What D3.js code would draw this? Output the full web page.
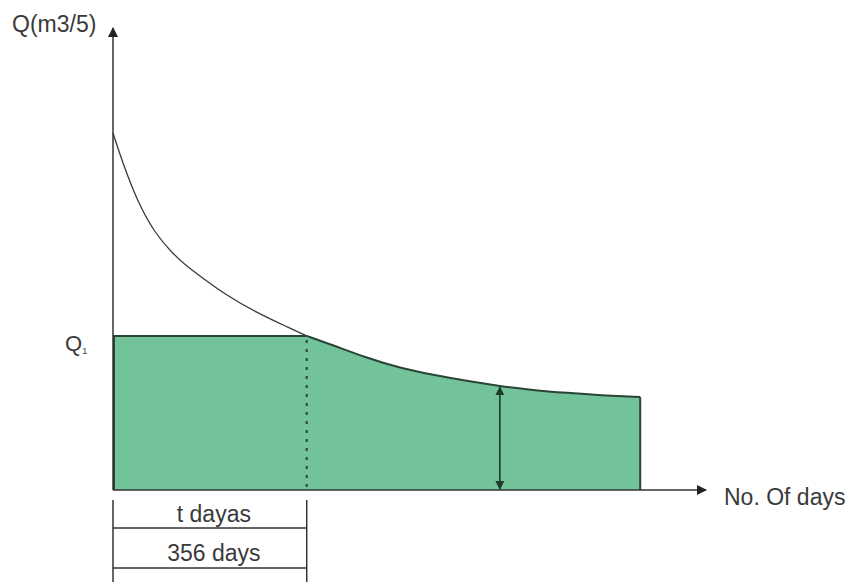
<!DOCTYPE html>
<html>
<head>
<meta charset="utf-8">
<script src="https://cdn.jsdelivr.net/npm/d3@7"></script>
<style>
  body { margin: 0; background: #fff; }
  text { font-family: "Liberation Sans", Arial, sans-serif; fill: #3a3a3a; }
</style>
</head>
<body>
<div id="chart"></div>
<script>
var dim = { 'width': 858, 'height': 582 };

// flow duration curve (x: arbitrary day units 0-100, y: discharge 0-100)
var curveDays = [0, 1.5, 4.3, 7.2, 10.2, 13.0, 15.9, 19.0, 24.8, 30.5, 33.4, 37.9, 43.8, 49.5, 55.2, 61, 66.7, 72.4, 78.3, 84, 90.9];
var curveQ    = [77.6, 71.7, 62.4, 55.9, 51.5, 48.3, 45.7, 42.8, 38.5, 35.2, 33.5, 31.5, 28.7, 26.5, 25, 23.7, 22.6, 21.7, 21.1, 20.6, 20.2];
var q1 = 33.5;          // Q1 level
var tDays = 33.4;       // where Q1 meets the curve
var arrowDay = 66.7;    // double arrow position
var yLabel = "Q(m3/5)";
var xLabel = "No. Of days";
var bracketLabels = ["t dayas", "356 days"];

var x = d3.scaleLinear().domain([0, 100]).range([113, 693]);
var y = d3.scaleLinear().domain([0, 100]).range([490, 30]);

var svg = d3.select("#chart").append("svg")
    .attr("width", dim.width).attr("height", dim.height);

var defs = svg.append("defs");
defs.append("marker").attr("id", "axisArrow")
    .attr("viewBox", "0 0 10 10").attr("refX", 9).attr("refY", 5)
    .attr("markerWidth", 10).attr("markerHeight", 10)
    .attr("markerUnits", "userSpaceOnUse").attr("orient", "auto")
    .append("path").attr("d", "M0,0 L10,5 L0,10 Z").attr("fill", "#222");
defs.append("marker").attr("id", "dimArrow")
    .attr("viewBox", "0 0 10 10").attr("refX", 9).attr("refY", 5)
    .attr("markerWidth", 9).attr("markerHeight", 9)
    .attr("markerUnits", "userSpaceOnUse").attr("orient", "auto-start-reverse")
    .append("path").attr("d", "M0,0 L10,5 L0,10 Z").attr("fill", "#1f3a2c");

var pts = curveDays.map((d, i) => ({ x: d, y: curveQ[i] }));
var upper = pts.filter(p => p.x <= tDays);
var lower = pts.filter(p => p.x >= tDays);
var last = lower[lower.length - 1];

// green area: flat block at Q1 until tDays, then under the curve
var flatArea = d3.area().x(d => x(d.x)).y0(y(0)).y1(d => y(d.y));
svg.append("path").datum([{ x: 0, y: q1 }, { x: tDays + 0.2, y: q1 }])
    .attr("d", flatArea).attr("fill", "#72c29a");
var curveArea = d3.area().x(d => x(d.x)).y0(y(0)).y1(d => y(d.y))
    .curve(d3.curveBasis);
svg.append("path").datum(lower)
    .attr("d", curveArea).attr("fill", "#72c29a");

// outline of the area
var outline = d3.line().x(d => x(d.x)).y(d => y(d.y)).curve(d3.curveBasis);
svg.append("path").datum(lower)
    .attr("d", outline).attr("fill", "none")
    .attr("stroke", "#2a4436").attr("stroke-width", 2);
svg.append("line")
    .attr("x1", x(0)).attr("x2", x(tDays)).attr("y1", y(q1)).attr("y2", y(q1))
    .attr("stroke", "#2a4436").attr("stroke-width", 2);
svg.append("line")
    .attr("x1", x(last.x)).attr("x2", x(last.x)).attr("y1", y(last.y)).attr("y2", y(0))
    .attr("stroke", "#2a4436").attr("stroke-width", 2);
svg.append("line")
    .attr("x1", x(0) + 1).attr("x2", x(0) + 1).attr("y1", y(q1)).attr("y2", y(0))
    .attr("stroke", "#2a4436").attr("stroke-width", 2);

// upper part of the duration curve
svg.append("path").datum(upper)
    .attr("d", outline).attr("fill", "none")
    .attr("stroke", "#3a3a3a").attr("stroke-width", 1.3);

// dotted line at tDays
svg.append("line")
    .attr("x1", x(tDays)).attr("x2", x(tDays))
    .attr("y1", y(q1) + 4).attr("y2", y(0))
    .attr("stroke", "#2a4436").attr("stroke-width", 2)
    .attr("stroke-dasharray", "3,6");

// double arrow
var qAtArrow = curveQ[curveDays.indexOf(arrowDay)];
svg.append("line")
    .attr("x1", x(arrowDay)).attr("x2", x(arrowDay))
    .attr("y1", y(0) - 1).attr("y2", y(qAtArrow) + 1)
    .attr("stroke", "#1f3a2c").attr("stroke-width", 1.6)
    .attr("marker-start", "url(#dimArrow)").attr("marker-end", "url(#dimArrow)");

// axes
svg.append("line")
    .attr("x1", x(0)).attr("x2", x(0)).attr("y1", y(0)).attr("y2", 28)
    .attr("stroke", "#333").attr("stroke-width", 1.5)
    .attr("marker-end", "url(#axisArrow)");
svg.append("line")
    .attr("x1", x(0)).attr("x2", 706).attr("y1", y(0)).attr("y2", y(0))
    .attr("stroke", "#333").attr("stroke-width", 1.5)
    .attr("marker-end", "url(#axisArrow)");

// axis labels
svg.append("text").attr("x", 12).attr("y", 32)
    .style("font-size", "23px").text(yLabel);
svg.append("text").attr("x", 724).attr("y", 505)
    .style("font-size", "23px").text(xLabel);

var q1Label = svg.append("text").attr("x", 65).attr("y", y(q1) + 15)
    .style("font-size", "22px");
q1Label.append("tspan").text("Q");
q1Label.append("tspan").attr("dy", 3).style("font-size", "9px").text("1");

// bracket below the axis
var bx0 = x(0), bx1 = x(tDays);
[bx0, bx1].forEach(function (bx) {
    svg.append("line")
        .attr("x1", bx).attr("x2", bx).attr("y1", 500).attr("y2", 582)
        .attr("stroke", "#333").attr("stroke-width", 1.5);
});
[528, 568].forEach(function (by) {
    svg.append("line")
        .attr("x1", bx0).attr("x2", bx1).attr("y1", by).attr("y2", by)
        .attr("stroke", "#333").attr("stroke-width", 1.5);
});
svg.selectAll(".blabel").data(bracketLabels).enter()
    .append("text").attr("class", "blabel")
    .attr("x", (bx0 + bx1) / 2 + 4)
    .attr("y", (d, i) => i === 0 ? 522 : 561)
    .attr("text-anchor", "middle")
    .style("font-size", "23px")
    .text(d => d);
</script>
</body>
</html>
